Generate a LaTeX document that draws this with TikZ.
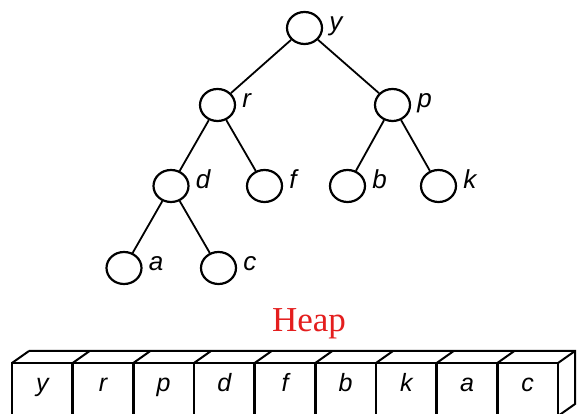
\documentclass[tikz,border=0pt]{standalone}
\usepackage{fontspec}
\setsansfont{Liberation Sans}
\newfontfamily\heapfont{Liberation Serif}
\usetikzlibrary{positioning,shapes.geometric}
\definecolor{heapred}{RGB}{228,30,30}

\begin{document}
\begin{tikzpicture}[x=1pt,y=1pt,node distance=6pt and 6pt,
  vtx/.style={draw,ellipse,line width=2.2pt,minimum width=35pt,minimum height=32pt,inner sep=0pt},
  lbl/.style={font=\fontsize{26}{30}\selectfont\sffamily\itshape,inner sep=0pt,text height=1ex,text depth=0pt},
  edge/.style={line width=1.8pt},
  cell/.style={draw,line width=2.5pt,minimum width=60.67pt,minimum height=53pt,inner sep=0pt,outer sep=0pt,font=\fontsize{25}{28}\selectfont\sffamily\itshape,text height=1ex,text depth=0pt},
  depth/.style={line width=2pt}]
\clip (0,0) rectangle (578,414);
% tree
\node[vtx] (y) at (304.5,386) {};
\node[vtx] (r) at (217.5,309) {};
\node[vtx] (p) at (392.5,309) {};
\node[vtx] (d) at (171,228) {};
\node[vtx] (f) at (264.5,228) {};
\node[vtx] (b) at (347.5,228) {};
\node[vtx] (k) at (438.5,228) {};
\node[vtx] (a) at (124,146) {};
\node[vtx] (c) at (218.5,146) {};
\node[lbl,right=of y] (y-l) {y};
\node[lbl,right=of r] (r-l) {r};
\node[lbl,right=of p] (p-l) {p};
\node[lbl,right=of d] (d-l) {d};
\node[lbl,right=of f] (f-l) {f};
\node[lbl,right=of b] (b-l) {b};
\node[lbl,right=of k] (k-l) {k};
\node[lbl,right=of a] (a-l) {a};
\node[lbl,right=of c] (c-l) {c};
\draw[edge] (y)--(r);\draw[edge] (y)--(p);\draw[edge] (r)--(d);\draw[edge] (r)--(f);
\draw[edge] (p)--(b);\draw[edge] (p)--(k);\draw[edge] (d)--(a);\draw[edge] (d)--(c);
% array
\node[font=\heapfont\fontsize{35}{40}\selectfont,text=heapred,anchor=base] (heap) at (309,82) {Heap};
\node[cell] (h1) at (42.33,24.5) {y};
\node[cell,right=0pt of h1] (h2) {r};
\node[cell,right=0pt of h2] (h3) {p};
\node[cell,right=0pt of h3] (h4) {d};
\node[cell,right=0pt of h4] (h5) {f};
\node[cell,right=0pt of h5] (h6) {b};
\node[cell,right=0pt of h6] (h7) {k};
\node[cell,right=0pt of h7] (h8) {a};
\node[cell,right=0pt of h8] (h9) {c};
\draw[depth] ([shift={(17,12)}]h1.north west) -- ([shift={(17,12)}]h9.north east) -- ([shift={(17,12)}]h9.south east) -- (h9.south east);
\foreach \i in {1,...,9} \draw[depth] (h\i.north west) -- ++(17,12);
\draw[depth] (h9.north east) -- ++(17,12);
\end{tikzpicture}
\end{document}
